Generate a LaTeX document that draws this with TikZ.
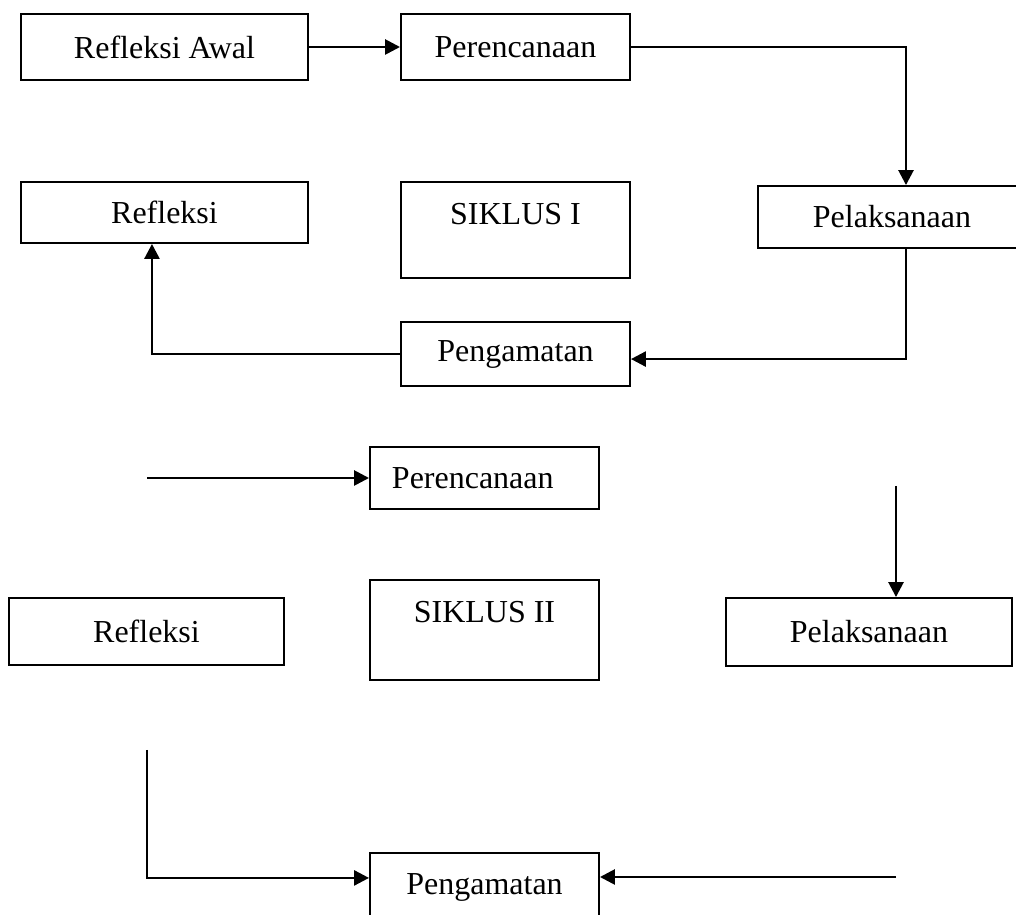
\documentclass[tikz,border=0pt]{standalone}
\usepackage{fontspec}
\setmainfont{Liberation Serif}
\usepackage{tikz}
\usetikzlibrary{arrows.meta}
\tikzset{kotak/.style={draw,rectangle,line width=0.7pt,inner sep=0pt,minimum height=24.75pt,font=\fontsize{12}{14}\selectfont}}
\tikzset{siklus/.style={kotak,text height=16.1pt}}

\begin{document}
\begin{tikzpicture}[x=0.375pt,y=-0.375pt,>={Triangle[length=5.6pt,width=5.6pt]},panah/.style={->,line width=1pt}]
    \clip (0,0) rectangle (1016,915);

    % siklus I
    \node[kotak,minimum width=107.6pt] (awal)at (164.5,47) {Refleksi Awal};
    \node[kotak,minimum width=85.9pt] (rencanaA)at (515.5,47) {Perencanaan};
    \node[kotak,minimum width=100.5pt,minimum height=23.25pt] (laksanaA)at (892,217) {Pelaksanaan};
    \node[kotak,minimum width=107.6pt,minimum height=22.9pt] (refleksiA)at (164.5,212.5) {Refleksi};
    \node[siklus,minimum width=85.9pt,text depth=19.9pt] (siklusA)at (515.5,230) {SIKLUS I};
    \node[kotak,minimum width=85.9pt,minimum height=24pt] (amatA)at (515.5,354) {Pengamatan};

    \draw [panah] (awal) -- (rencanaA);
    \draw [panah] (rencanaA.east) -| ([xshift=5.25pt]laksanaA.north);
    \draw [panah] ([xshift=5.25pt]laksanaA.south) |- ([yshift=-1.9pt]amatA.east);
    \draw [panah] (amatA.west) -| ([xshift=-4.7pt]refleksiA.south);

    % siklus II
    \node[kotak,minimum width=85.9pt,minimum height=23.25pt,text width=69.4pt,align=left,inner xsep=8.25pt] (rencanaB)at (484.5,478) {Perencanaan};
    \node[siklus,minimum width=85.9pt,text depth=21.4pt] (siklusB)at (484.5,630) {SIKLUS II};
    \node[kotak,minimum width=107.25pt,minimum height=25.5pt] (laksanaB)at (869,632) {Pelaksanaan};
    \node[kotak,minimum width=103.1pt,minimum height=25.1pt] (refleksiB)at (146.5,631.5) {Refleksi};
    \node[kotak,minimum width=85.9pt,minimum height=25.5pt] (amatB)at (484.5,887) {Pengamatan};

    \coordinate (masukB) at (147,478);
    \coordinate (atasB) at (896,486);
    \coordinate (kiriB) at (147,750);
    \coordinate (kananB) at (896,877);

    \draw [panah] (masukB) -- (rencanaB.west);
    \draw [panah] (atasB) -- (atasB |- laksanaB.north);
    \draw [panah] (kiriB) |- ([yshift=3.4pt]amatB.west);
    \draw [panah] (kananB) -- (kananB -| amatB.east);
\end{tikzpicture}
\end{document}
